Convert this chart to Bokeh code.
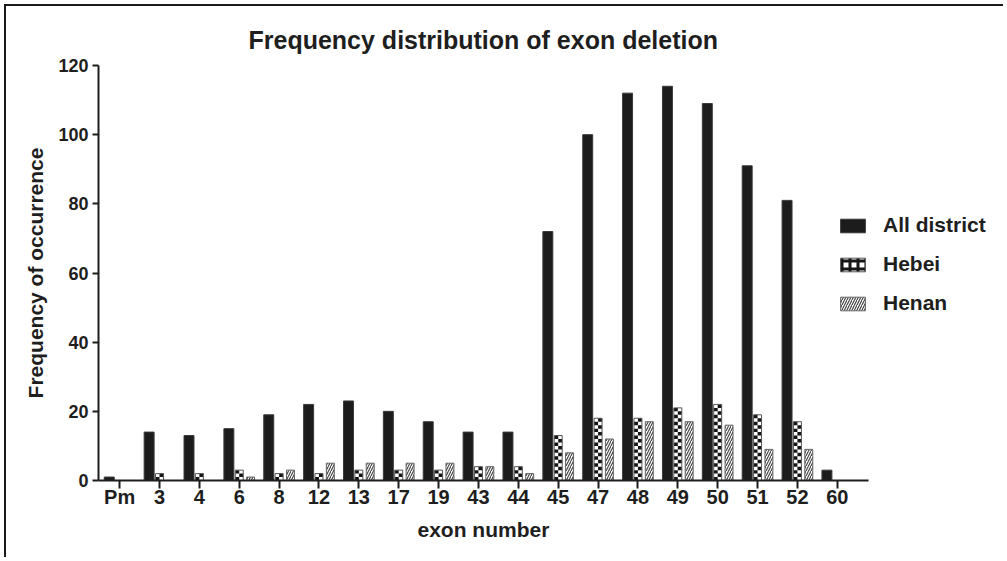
from bokeh.plotting import figure
from bokeh.models import (ColumnDataSource, Range1d, FixedTicker, Legend, LegendItem, Title)
from bokeh.transform import dodge
from bokeh.embed import file_html
from bokeh.resources import INLINE

# ---- data ----
categories = ["Pm", "3", "4", "6", "8", "12", "13", "17", "19", "43", "44",
              "45", "47", "48", "49", "50", "51", "52", "60"]
all_district = [1, 14, 13, 15, 19, 22, 23, 20, 17, 14, 14, 72, 100, 112, 114, 109, 91, 81, 3]
hebei = [0, 2, 2, 3, 2, 2, 3, 3, 3, 4, 4, 13, 18, 18, 21, 22, 19, 17, 0]
henan = [0, 0, 0, 1, 3, 5, 5, 5, 5, 4, 2, 8, 12, 17, 17, 16, 9, 9, 0]
y_ticks = [0, 20, 40, 60, 80, 100, 120]

FONT = "Liberation Sans"
INK = "#1e1e1e"

xs = list(range(len(categories)))
src = ColumnDataSource(dict(x=xs, all=all_district, hebei=hebei, henan=henan))

# checker cells of the Hebei bars (one cell per unit of the value, two columns)
cx, cy = [], []
for i, h in enumerate(hebei):
    for r in range(h):
        cx.append(i - 0.05 + 0.1 * (r % 2))
        cy.append(r + 0.5)
cells = ColumnDataSource(dict(x=cx, y=cy))

W, H = 999, 553
FL, FT, FB, FR = 92, 59, 474, 997
x0, x1 = -0.53, 18.78
px_per_unit = 39.87
x_end = x0 + (FR - FL) / px_per_unit

p = figure(width=W, height=H, output_backend="svg", toolbar_location=None,
           x_range=Range1d(x0, x_end), y_range=Range1d(0, 120),
           min_border_left=FL, min_border_right=W - FR, min_border_top=FT,
           min_border_bottom=H - FB)
p.styles = {"margin-left": "4px", "margin-top": "4px",
            "border-left": "2px solid #1a1a1a", "border-top": "2px solid #1a1a1a"}
p.outline_line_color = None
p.grid.visible = False
p.background_fill_color = "white"
p.border_fill_color = "white"

p.title.text = "Frequency distribution of exon deletion"
p.title.align = "left"
p.title.offset = 150
p.title.text_font = FONT
p.title.text_font_size = "25px"
p.title.text_font_style = "bold"
p.title.text_color = INK
p.title.standoff = 23

r_all = p.vbar(x=dodge("x", -0.26), top="all", width=0.25, source=src,
               fill_color="#1c1c1c", line_color="#3a3a3a", line_width=1)
p.vbar(x="x", top="hebei", width=0.2, source=src, fill_color="white", line_color=None)
p.rect(x="x", y="y", width=0.1, height=1, source=cells,
       fill_color="#151515", line_color=None)
p.vbar(x="x", top="hebei", width=0.2, source=src,
       fill_color=None, line_color="#555555", line_width=1)
r_hebei_leg = p.vbar(x="x", top="hebei", width=0.2, source=src,
                     fill_color="white", line_color="#555555", line_width=1,
                     hatch_pattern="cross", hatch_color="#151515",
                     hatch_scale=8, hatch_weight=3, visible=False)
r_henan = p.vbar(x=dodge("x", 0.285), top="henan", width=0.2, source=src,
                 fill_color="white", line_color="#666666", line_width=1,
                 hatch_pattern="right_diagonal_line", hatch_color="#3c3c3c",
                 hatch_scale=5, hatch_weight=1.1)

for ax in (p.xaxis[0], p.yaxis[0]):
    ax.axis_line_color = INK
    ax.axis_line_width = 2
    ax.major_tick_line_color = INK
    ax.major_tick_line_width = 2
    ax.major_tick_in = 0
    ax.minor_tick_line_color = None
    ax.major_label_text_font = FONT
    ax.major_label_text_font_style = "bold"
    ax.major_label_text_color = INK
    ax.axis_label_text_font = FONT
    ax.axis_label_text_font_style = "bold"
    ax.axis_label_text_font_size = "21px"
    ax.axis_label_text_color = INK

p.xaxis.ticker = FixedTicker(ticks=xs)
p.xaxis.bounds = (x0, x1)
p.xaxis.major_label_overrides = {i: c for i, c in enumerate(categories)}
p.xaxis.major_tick_out = 8
p.xaxis.major_label_standoff = -3
p.xaxis.major_label_text_font_size = "20px"

p.yaxis.ticker = FixedTicker(ticks=y_ticks)
p.yaxis.major_tick_out = 6
p.yaxis.major_label_standoff = 4
p.yaxis.major_label_text_font_size = "18px"
p.yaxis.axis_label = "Frequency of occurrence"
p.yaxis.axis_label_standoff = 8

# x-axis title, centred under the axis line (not under the wider frame)
p.add_layout(Title(text="exon number", align="left", offset=319, standoff=11,
                   text_font=FONT, text_font_size="21px", text_font_style="bold",
                   text_color=INK), "below")

legend = Legend(items=[LegendItem(label="All district", renderers=[r_all]),
                       LegendItem(label="Hebei", renderers=[r_hebei_leg]),
                       LegendItem(label="Henan", renderers=[r_henan])],
                location=(739, 165), glyph_width=31, glyph_height=17,
                label_text_font=FONT, label_text_font_size="21px",
                label_text_font_style="bold", label_text_color=INK,
                label_standoff=15, spacing=15, padding=0, margin=0,
                border_line_color=None, background_fill_alpha=0,
                inactive_fill_alpha=0)
p.add_layout(legend)

open("out.html", "w").write(file_html(p, INLINE))
